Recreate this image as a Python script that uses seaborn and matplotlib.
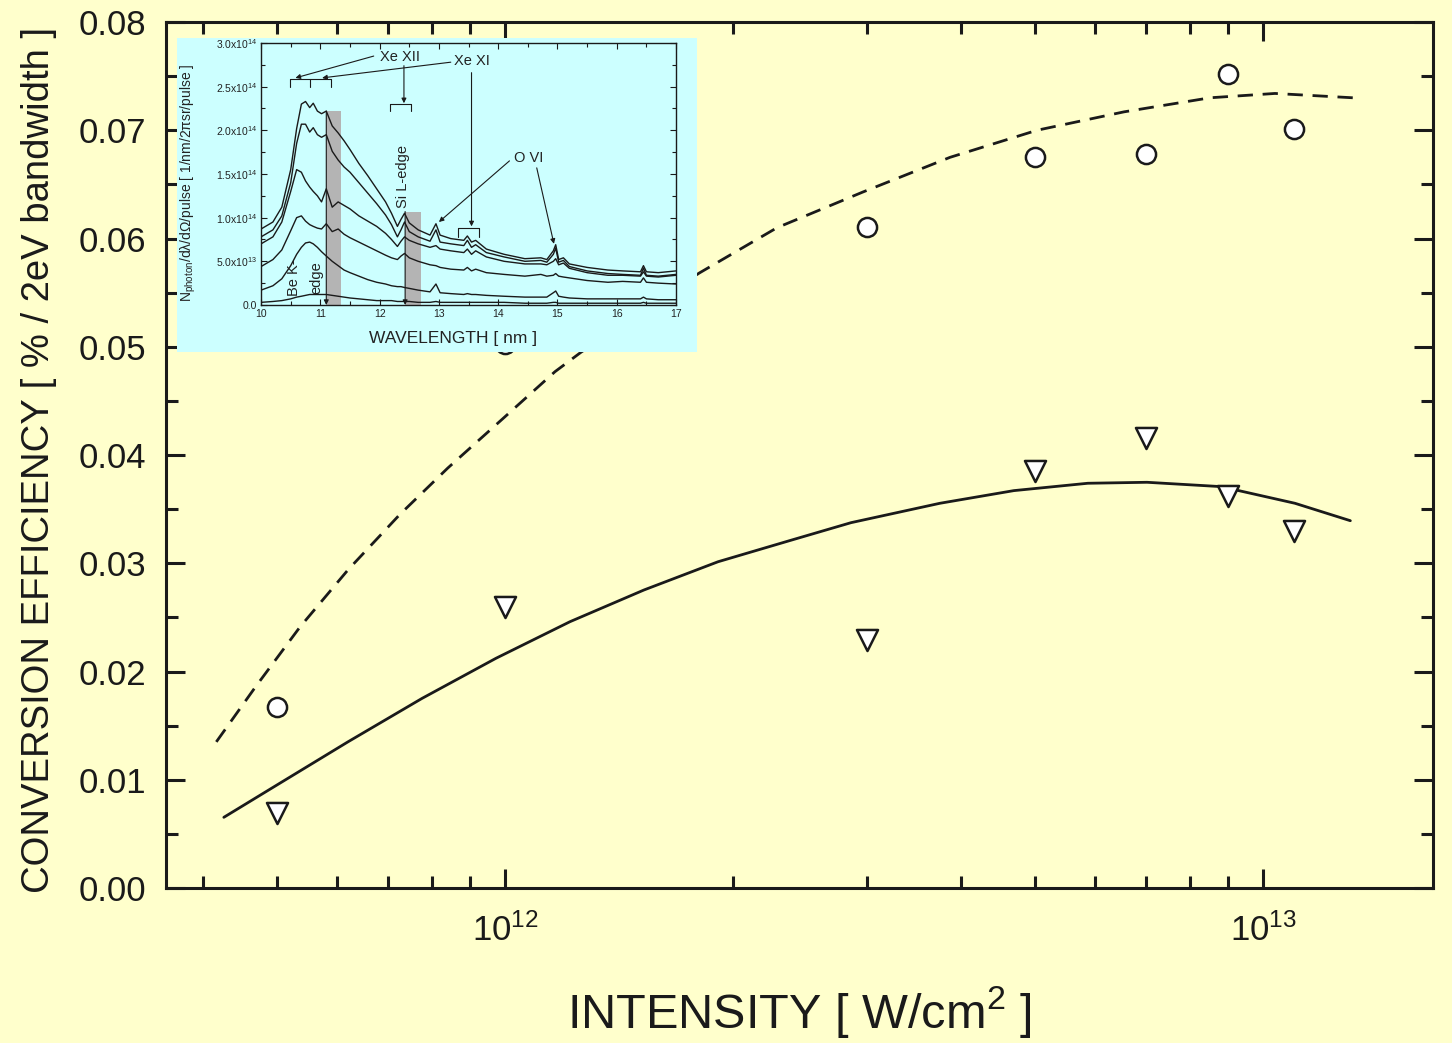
import numpy as np
import pandas as pd
import matplotlib
matplotlib.use("Agg")
import matplotlib.pyplot as plt
import seaborn as sns
from matplotlib.patches import Rectangle
from matplotlib.ticker import (LogLocator, FuncFormatter, MultipleLocator,
                               NullFormatter)

# ---------------- main chart data ----------------
intensity = [5e11, 1e12, 3e12, 5e12, 7e12, 9e12, 1.1e13]
ce_circle = [0.0167, 0.0503, 0.0611, 0.0675, 0.0678, 0.0752, 0.0701]
ce_triangle = [0.0069, 0.0260, 0.0229, 0.0385, 0.0416, 0.0362, 0.0330]

fit_dash_x = [4.160e11, 4.688e11, 5.362e11, 6.208e11, 7.263e11, 8.405e11,
              9.949e11, 1.164e12, 1.260e12, 1.803e12, 2.285e12, 2.967e12,
              3.865e12, 5.033e12, 6.556e12, 8.513e12, 1.037e13, 1.314e13]
fit_dash_y = [0.0135, 0.0186, 0.0241, 0.0294, 0.0345, 0.0388,
              0.0434, 0.0477, 0.0495, 0.0568, 0.0610, 0.0643,
              0.0675, 0.0700, 0.0717, 0.0730, 0.0734, 0.0730]

fit_solid_x = [4.256e11, 4.959e11, 6.208e11, 7.773e11, 9.728e11, 1.218e12,
               1.525e12, 1.910e12, 2.390e12, 2.861e12, 3.747e12, 4.691e12,
               5.873e12, 7.031e12, 8.803e12, 1.102e13, 1.304e13]
fit_solid_y = [0.00653, 0.00936, 0.01351, 0.01752, 0.02122, 0.02460,
               0.02753, 0.03014, 0.03215, 0.03375, 0.03554, 0.03671,
               0.03739, 0.03748, 0.03708, 0.03554, 0.03393]

# ---------------- inset spectra data (units of 1e14) ----------------
wavelength = [10.0, 10.2, 10.35, 10.5, 10.6, 10.68, 10.75, 10.82, 10.88, 10.95,
              11.02, 11.1, 11.2, 11.3, 11.4, 11.5, 11.65, 11.8, 11.95, 12.1,
              12.2, 12.3, 12.36, 12.42, 12.5, 12.65, 12.85, 12.95, 13.02, 13.2,
              13.42, 13.48, 13.55, 13.62, 13.8, 14.1, 14.45, 14.72, 14.82, 14.93,
              14.97, 15.02, 15.1, 15.2, 15.5, 15.85, 16.1, 16.4, 16.45, 16.5,
              16.7, 17.0]
spec_a = [0.87, 0.95, 1.12, 1.55, 2.02, 2.30, 2.33, 2.26, 2.31, 2.22,
          2.19, 2.22, 2.05, 1.97, 1.88, 1.78, 1.62, 1.48, 1.33, 1.18,
          1.05, 0.90, 0.98, 1.05, 0.94, 0.86, 0.80, 0.93, 0.80, 0.76,
          0.74, 0.79, 0.72, 0.74, 0.64, 0.58, 0.53, 0.54, 0.52, 0.62,
          0.69, 0.52, 0.54, 0.47, 0.43, 0.40, 0.39, 0.38, 0.45, 0.38,
          0.37, 0.39]
spec_b = [0.78, 0.86, 1.02, 1.40, 1.85, 2.07, 2.07, 1.98, 2.03, 1.95,
          1.92, 1.95, 1.76, 1.66, 1.58, 1.52, 1.40, 1.28, 1.16, 1.03,
          0.92, 0.78, 0.86, 0.95, 0.84, 0.78, 0.73, 0.86, 0.72, 0.70,
          0.68, 0.74, 0.66, 0.69, 0.60, 0.55, 0.50, 0.51, 0.49, 0.58,
          0.65, 0.49, 0.51, 0.44, 0.39, 0.36, 0.35, 0.34, 0.42, 0.34,
          0.33, 0.35]
spec_c = [0.70, 0.78, 0.95, 1.30, 1.55, 1.52, 1.42, 1.35, 1.30, 1.25,
          1.18, 1.33, 1.12, 1.18, 1.14, 1.10, 1.02, 0.96, 0.90, 0.82,
          0.75, 0.67, 0.73, 0.78, 0.74, 0.70, 0.66, 0.68, 0.64, 0.62,
          0.60, 0.64, 0.58, 0.62, 0.55, 0.50, 0.47, 0.47, 0.46, 0.50,
          0.53, 0.46, 0.48, 0.42, 0.37, 0.34, 0.34, 0.33, 0.38, 0.33,
          0.32, 0.34]
spec_d = [0.44, 0.52, 0.63, 0.85, 1.00, 1.02, 0.96, 0.92, 0.90, 0.88,
          0.87, 0.93, 0.84, 0.87, 0.81, 0.77, 0.72, 0.67, 0.62, 0.57,
          0.54, 0.52, 0.56, 0.59, 0.54, 0.50, 0.46, 0.45, 0.43, 0.41,
          0.40, 0.43, 0.39, 0.41, 0.37, 0.35, 0.33, 0.35, 0.33, 0.34,
          0.36, 0.33, 0.32, 0.31, 0.28, 0.26, 0.27, 0.26, 0.31, 0.26,
          0.25, 0.24]
spec_e = [0.17, 0.22, 0.30, 0.45, 0.58, 0.66, 0.71, 0.72, 0.70, 0.66,
          0.61, 0.56, 0.50, 0.45, 0.40, 0.37, 0.33, 0.29, 0.26, 0.24,
          0.22, 0.21, 0.21, 0.20, 0.19, 0.17, 0.15, 0.24, 0.14, 0.13,
          0.12, 0.13, 0.12, 0.12, 0.11, 0.10, 0.09, 0.09, 0.09, 0.14,
          0.16, 0.10, 0.09, 0.08, 0.07, 0.07, 0.07, 0.07, 0.09, 0.07,
          0.06, 0.06]
spec_f = [0.03, 0.04, 0.05, 0.07, 0.09, 0.10, 0.11, 0.12, 0.12, 0.12,
          0.12, 0.12, 0.11, 0.10, 0.09, 0.08, 0.07, 0.06, 0.05, 0.05,
          0.05, 0.04, 0.04, 0.04, 0.04, 0.03, 0.03, 0.04, 0.03, 0.03,
          0.03, 0.03, 0.03, 0.03, 0.03, 0.03, 0.02, 0.02, 0.02, 0.03,
          0.03, 0.02, 0.02, 0.02, 0.02, 0.02, 0.02, 0.02, 0.03, 0.02,
          0.02, 0.02]
spectra = {"A": spec_a, "B": spec_b, "C": spec_c, "D": spec_d, "E": spec_e, "F": spec_f}

# filter bands (grey bars): start, end, height (1e14)
band_lo = [11.10, 12.43]
band_hi = [11.35, 12.70]
band_top = [2.22, 1.07]

# ---------------- style ----------------
sns.set_theme(style="ticks")
plt.rcParams["font.family"] = ["Liberation Sans", "DejaVu Sans"]
plt.rcParams["mathtext.fontset"] = "custom"
plt.rcParams["mathtext.rm"] = "Liberation Sans"
plt.rcParams["mathtext.it"] = "Liberation Sans:italic"
plt.rcParams["mathtext.bf"] = "Liberation Sans:bold"
plt.rcParams["mathtext.sf"] = "Liberation Sans"

YELLOW = "#FFFFCC"
CYAN = "#CCFFFF"

fig = plt.figure(figsize=(14.52, 10.43), dpi=100, facecolor=YELLOW)
ax = fig.add_axes([0.1143, 0.1486, 0.8726, 0.8303], facecolor=YELLOW)
ax.set_xscale("log")

sns.lineplot(x=fit_dash_x, y=fit_dash_y, ax=ax, color="k", lw=2.0,
             linestyle=(0, (5.5, 3.5)), sort=False, estimator=None)
sns.lineplot(x=fit_solid_x, y=fit_solid_y, ax=ax, color="k", lw=2.0,
             sort=False, estimator=None)
sns.scatterplot(x=intensity, y=ce_circle, ax=ax, marker="o", s=190,
                facecolor="white", edgecolor="k", linewidth=1.8, zorder=4)
sns.scatterplot(x=intensity, y=ce_triangle, ax=ax, marker="v", s=230,
                facecolor="white", edgecolor="k", linewidth=1.8, zorder=4)

ax.set_xlim(3.57e11, 1.676e13)
ax.set_ylim(0, 0.08)
ax.xaxis.set_major_locator(LogLocator(base=10, numticks=10))
ax.xaxis.set_minor_locator(LogLocator(base=10, subs=np.arange(2, 10), numticks=30))
ax.xaxis.set_major_formatter(FuncFormatter(lambda v, p: r"$10^{%d}$" % round(np.log10(v))))
ax.xaxis.set_minor_formatter(NullFormatter())
ax.yaxis.set_major_locator(MultipleLocator(0.01))
ax.yaxis.set_minor_locator(MultipleLocator(0.005))
ax.yaxis.set_major_formatter(FuncFormatter(lambda v, p: f"{v:.2f}"))
ax.tick_params(which="both", direction="in", top=True, right=True,
               width=2.2, color="k")
ax.tick_params(which="major", length=14)
ax.tick_params(which="minor", length=8.5)
ax.tick_params(axis="y", labelsize=25, pad=14, labelcolor="k")
ax.tick_params(axis="x", labelsize=25, pad=18, labelcolor="k")
for s in ax.spines.values():
    s.set_linewidth(2.2)
    s.set_color("k")

ax.set_xlabel(r"INTENSITY [ W/cm$^2$ ]", fontsize=35, color="k")
ax.set_ylabel("CONVERSION EFFICIENCY [ % / 2eV bandwidth ]", fontsize=27.5, color="k")
ax.xaxis.set_label_coords(0.5, -0.111)
ax.yaxis.set_label_coords(-0.086, 0.494)

# ---------------- inset ----------------
fig.add_artist(Rectangle((0.1219, 0.6625), 0.3581, 0.3011, transform=fig.transFigure,
                         facecolor=CYAN, edgecolor="none", zorder=2))
axin = fig.add_axes([0.1798, 0.7076, 0.2858, 0.2512], facecolor=CYAN)
axin.set_zorder(3)

axin.bar(band_lo, np.array(band_top) * 1e14, width=np.subtract(band_hi, band_lo),
         align="edge", color="#B4B4B4", edgecolor="none", zorder=1)

long = pd.DataFrame([
    {"wl": w, "val": v * 1e14, "curve": k}
    for k, arr in spectra.items() for w, v in zip(wavelength, arr)
])
sns.lineplot(data=long, x="wl", y="val", hue="curve", palette=["k"] * 6,
             legend=False, lw=1.0, estimator=None, ax=axin, zorder=2)

axin.set_xlim(10, 17)
axin.set_ylim(0, 3e14)
axin.xaxis.set_major_locator(MultipleLocator(1))
axin.xaxis.set_minor_locator(MultipleLocator(0.5))
axin.yaxis.set_major_locator(MultipleLocator(5e13))
axin.yaxis.set_minor_locator(MultipleLocator(2.5e13))


def sci(v, p):
    if abs(v) < 1:
        return "0.0"
    if v < 0:
        return ""
    e = int(np.floor(np.log10(v) + 1e-9))
    return f"{v / 10 ** e:.1f}x10$^{{{e}}}$"


axin.yaxis.set_major_formatter(FuncFormatter(sci))
axin.tick_params(which="both", direction="in", top=True, right=True,
                 width=0.8, color="k", labelsize=7.5, labelcolor="#222222")
axin.tick_params(which="major", length=4.5, pad=3)
axin.tick_params(which="minor", length=3)
for s in axin.spines.values():
    s.set_linewidth(1.0)
    s.set_color("k")
axin.set_xlabel("WAVELENGTH [ nm ]", fontsize=12.5, color="#222222")
axin.set_ylabel(r"N$_{\rm photon}$/dλ/dΩ/pulse [ 1/nm/2πsr/pulse ]",
                fontsize=10, color="#222222")
axin.xaxis.set_label_coords(0.463, -0.10)
axin.yaxis.set_label_coords(-0.152, 0.466)

arrow = dict(arrowstyle="-|>", mutation_scale=7, lw=0.8, color="k",
             shrinkA=0, shrinkB=0)
E14 = 1e14
txt_kw = dict(fontsize=10.5, color="#222222", ha="center", va="center")

axin.text(12.34, 2.84 * E14, "Xe XII", **txt_kw)
axin.text(13.55, 2.79 * E14, "Xe XI", **txt_kw)
axin.text(14.52, 1.68 * E14, "O VI", **txt_kw)
axin.text(12.40, 1.47 * E14, "Si L-edge", rotation=90, **txt_kw)
axin.text(10.55, 0.31 * E14, "Be K-", rotation=90, **txt_kw)
axin.text(10.93, 0.31 * E14, "edge", rotation=90, **txt_kw)

for (x0, y0), (x1, y1) in [
    ((11.90, 2.85), (10.58, 2.60)),
    ((13.20, 2.78), (11.03, 2.60)),
    ((12.41, 2.74), (12.41, 2.31)),
    ((13.55, 2.66), (13.55, 0.90)),
    ((14.19, 1.65), (13.00, 0.95)),
    ((14.65, 1.57), (14.94, 0.70)),
    ((11.10, 2.22), (11.10, 0.0)),
    ((12.43, 1.07), (12.43, 0.0)),
]:
    axin.annotate("", xy=(x1, y1 * E14), xytext=(x0, y0 * E14), arrowprops=arrow,
                  zorder=4)

bk = dict(color="k", lw=0.8, zorder=4)
axin.plot([10.48, 11.18], [2.59 * E14, 2.59 * E14], **bk)
for xb in [10.48, 10.83, 11.18]:
    axin.plot([xb, xb], [2.59 * E14, 2.50 * E14], **bk)
axin.plot([12.17, 12.53], [2.30 * E14, 2.30 * E14], **bk)
for xb in [12.17, 12.53]:
    axin.plot([xb, xb], [2.30 * E14, 2.22 * E14], **bk)
axin.plot([13.32, 13.68], [0.88 * E14, 0.88 * E14], **bk)
for xb in [13.32, 13.68]:
    axin.plot([xb, xb], [0.88 * E14, 0.78 * E14], **bk)

fig.savefig("out.png", dpi=100, facecolor=YELLOW)
